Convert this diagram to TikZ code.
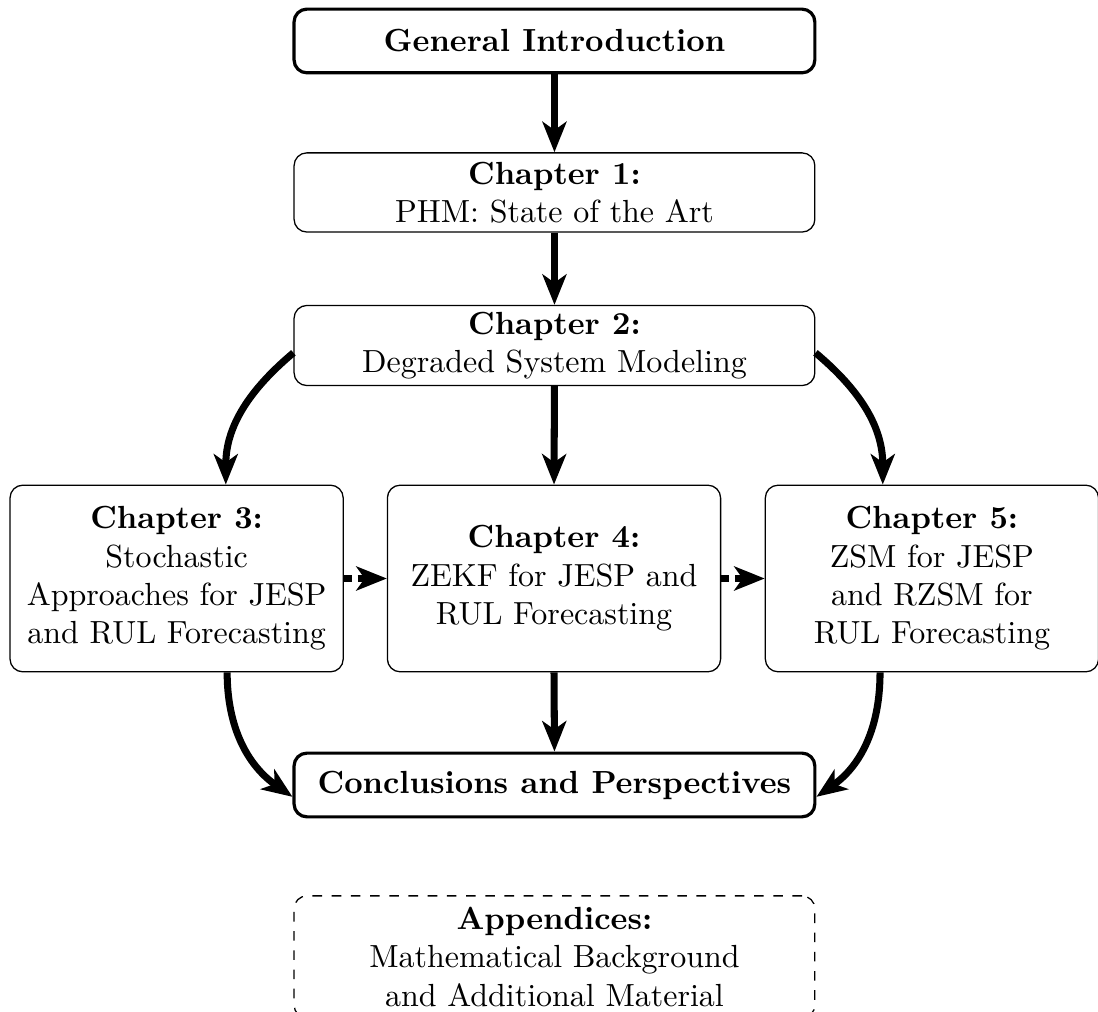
\documentclass[tikz,border=0pt]{standalone}
\usepackage{amsmath}
\usetikzlibrary{arrows.meta}

\tikzset{
  chapbox/.style={draw, rounded corners, align=center, inner sep=2pt,
    minimum width=5.72cm, minimum height=0.87cm},
  mainbox/.style={chapbox, line width=1pt, font=\bfseries, minimum height=0.7cm},
  sidebox/.style={chapbox, minimum width=3.66cm, minimum height=2.05cm},
  flow/.style={line width=2.2pt, -{Stealth[length=9.5pt,width=7.5pt,inset=2.6pt]}},
  dflow/.style={flow, dash pattern=on 2.5pt off 1.8pt},
}

\begin{document}
\begin{tikzpicture}
      \useasboundingbox (0,0) rectangle (12.06,-11.115);

      % Draw the boxes
      \node[mainbox] (intro) at (6.09,-0.45) {General Introduction};
      \node[chapbox] (ch1) at (6.09,-2.114) {\textbf{Chapter 1:}\\ PHM: State of the Art};
      \node[chapbox] (ch2) at (6.09,-3.795) {\textbf{Chapter 2:}\\ Degraded System Modeling};
      \node[sidebox] (ch3) at (1.94,-6.354) {\textbf{Chapter 3:}\\ Stochastic\\ Approaches for JESP\\ and RUL Forecasting};
      \node[sidebox] (ch4) at (6.085,-6.354) {\textbf{Chapter 4:}\\ ZEKF for JESP and\\ RUL Forecasting};
      \node[sidebox] (ch5) at (10.236,-6.354) {\textbf{Chapter 5:}\\ ZSM for JESP\\ and RZSM for\\ RUL Forecasting};
      \node[mainbox] (concl) at (6.09,-8.622) {Conclusions and Perspectives};
      \node[chapbox, dashed, minimum height=1.34cm] (app) at (6.09,-10.51) {\textbf{Appendices:}\\ Mathematical Background\\ and Additional Material};

      % Draw the straight arrows
      \foreach \i/\j in {intro/ch1, ch1/ch2, ch2/ch4, ch4/concl}
        \draw[flow] (\i.south) -- (\j.north);

      % Curved arrows
      \draw[flow] ([yshift=-0.08cm]ch2.west) to[out=220, in=90] ([xshift=0.54cm]ch3.north);
      \draw[flow] ([yshift=-0.08cm]ch2.east) to[out=-40, in=90] ([xshift=-0.54cm]ch5.north);
      \draw[flow] ([xshift=0.555cm]ch3.south) to[out=-90, in=145] ([yshift=-0.13cm]concl.west);
      \draw[flow] ([xshift=-0.57cm]ch5.south) to[out=-90, in=35] ([yshift=-0.13cm]concl.east);

      % Dashed links between chapters
      \foreach \i/\j in {ch3/ch4, ch4/ch5}
        \draw[dflow] (\i.east) -- (\j.west);
    \end{tikzpicture}
\end{document}
